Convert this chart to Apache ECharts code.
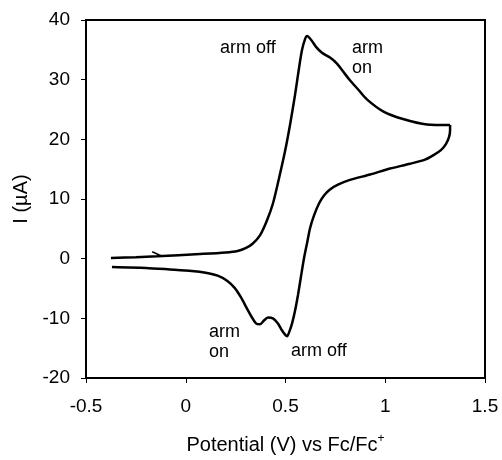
<!DOCTYPE html>
<html>
<head>
<meta charset="utf-8">
<script src="https://cdn.jsdelivr.net/npm/echarts@6/dist/echarts.min.js"></script>
<style>
  html, body { margin: 0; padding: 0; background: #fff; }
  #chart { width: 502px; height: 460px; }
</style>
</head>
<body>
<div id="chart"></div>
<script>
// potential (V vs Fc/Fc+) and current (µA)
const forwardScan = [
  [-0.375, 0.1], [-0.25, 0.25], [-0.144, 0.4], [0.071, 0.78], [0.2, 1.05],
  [0.26, 1.3], [0.3, 1.75], [0.335, 2.5], [0.372, 3.9], [0.407, 6.4],
  [0.437, 9.25], [0.467, 13.4], [0.497, 17.9], [0.523, 22.5], [0.548, 27.5],
  [0.568, 32.0], [0.583, 35.0], [0.598, 36.8], [0.608, 37.3], [0.628, 36.7],
  [0.653, 35.5], [0.683, 34.5], [0.723, 33.7], [0.758, 32.7], [0.788, 31.4],
  [0.823, 29.9], [0.863, 28.4], [0.908, 26.7], [0.989, 24.7], [1.089, 23.4],
  [1.209, 22.5], [1.315, 22.4], [1.325, 22.4]
]
const reverseScan = [
  [1.325, 22.4], [1.325, 21.55], [1.32, 20.4], [1.304, 19.2], [1.279, 18.2],
  [1.244, 17.4], [1.199, 16.6], [1.124, 15.9], [1.024, 15.1], [0.924, 14.1],
  [0.823, 13.2], [0.763, 12.4], [0.723, 11.6], [0.693, 10.6], [0.668, 9.25],
  [0.643, 7.26], [0.623, 5.1], [0.608, 2.6], [0.593, 0.1], [0.578, -2.9],
  [0.563, -6.0], [0.548, -8.7], [0.533, -10.85], [0.518, -12.35], [0.508, -13.0],
  [0.497, -12.7], [0.482, -12.0], [0.462, -10.85], [0.437, -10.0], [0.412, -9.86],
  [0.392, -10.36], [0.372, -11.0], [0.352, -10.85], [0.332, -9.86], [0.307, -8.36],
  [0.277, -6.5], [0.245, -4.9], [0.207, -3.7], [0.16, -2.85], [0.1, -2.35],
  [0.03, -2.05], [-0.08, -1.8], [-0.2, -1.55], [-0.37, -1.4]
]
// little scan-direction barb on the forward sweep
const arrowBarb = [[-0.168, 1.15], [-0.122, 0.45]]

const xTicks = [-0.5, 0, 0.5, 1, 1.5]
const yTicks = [-20, -10, 0, 10, 20, 30, 40]

// text notes: [text, potential, current]
const notes = [
  ["arm off", 0.172, 35.3],
  ["arm\non", 0.833, 33.7],
  ["arm\non", 0.117, -14.0],
  ["arm off", 0.528, -15.5]
]

const font = "'Liberation Sans', Arial, sans-serif"
const chart = echarts.init(document.getElementById("chart"))

const option = {
  animation: false,
  grid: {
    left: 86,
    right: 17,
    top: 20,
    bottom: 79,
    show: true,
    borderColor: "#000",
    borderWidth: 2,
  },
  xAxis: {
    type: "value",
    min: xTicks[0],
    max: xTicks[xTicks.length - 1],
    interval: 0.5,
    name: "Potential (V) vs Fc/Fc{sup|+}",
    nameLocation: "middle",
    nameGap: 55,
    nameTextStyle: {
      color: "#000",
      fontSize: 20,
      fontFamily: font,
      rich: {
        sup: { fontSize: 12, fontFamily: font, color: "#000", padding: [0, 0, 12, 0] },
      },
    },
    axisLine: { onZero: false, lineStyle: { color: "#000", width: 2 } },
    axisTick: { inside: false, length: 5, lineStyle: { color: "#000" } },
    axisLabel: {
      color: "#000",
      fontSize: 19,
      fontFamily: font,
      margin: 19,
      formatter: (v) => String(v),
    },
    splitLine: { show: false },
  },
  yAxis: {
    type: "value",
    min: yTicks[0],
    max: yTicks[yTicks.length - 1],
    interval: 10,
    name: "I (µA)",
    nameLocation: "middle",
    nameGap: 55,
    nameTextStyle: { color: "#000", fontSize: 20, fontFamily: font },
    axisLine: { onZero: false, lineStyle: { color: "#000", width: 2 } },
    axisTick: { inside: false, length: 5, lineStyle: { color: "#000" } },
    axisLabel: { color: "#000", fontSize: 19, fontFamily: font, margin: 16 },
    splitLine: { show: false },
  },
  series: [
    {
      name: "forward",
      type: "line",
      data: forwardScan,
      smooth: 0.3,
      showSymbol: false,
      lineStyle: { color: "#000", width: 2.5 },
    },
    {
      name: "reverse",
      type: "line",
      data: reverseScan,
      smooth: 0.25,
      showSymbol: false,
      lineStyle: { color: "#000", width: 2.5 },
    },
    {
      name: "arrow",
      type: "line",
      data: arrowBarb,
      showSymbol: false,
      lineStyle: { color: "#000", width: 1.5 },
    },
  ],
}
chart.setOption(option)

// place the notes in data space
chart.setOption({
  graphic: notes.map(([text, v, i]) => {
    const [px, py] = chart.convertToPixel({ gridIndex: 0 }, [v, i])
    return {
      type: "text",
      x: px,
      y: py,
      style: {
        text: text,
        fill: "#000",
        font: "18px " + font,
        lineHeight: 20,
        textAlign: "left",
        textVerticalAlign: "middle",
      },
    }
  }),
})
</script>
</body>
</html>
